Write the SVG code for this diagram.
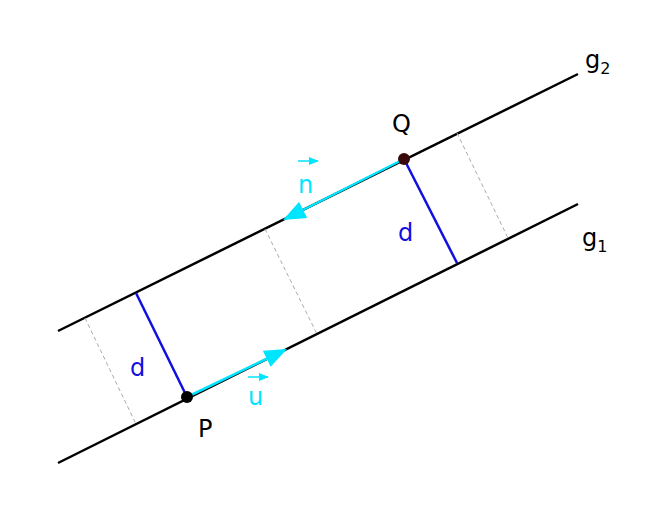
<svg xmlns="http://www.w3.org/2000/svg" width="660" height="512" viewBox="0 0 660 512">
<style>
.ln{stroke:#000;stroke-width:2.5;fill:none}
.ds{stroke:#aaa;stroke-width:1;stroke-dasharray:4,3;fill:none}
.bl{stroke:#1010e0;stroke-width:2.5}
.cy{stroke:#00e5ff;stroke-width:2.5}
text{font-family:"DejaVu Sans",sans-serif;font-size:24px}
</style>
<defs>
<marker id="ah" markerWidth="10" markerHeight="8" refX="9" refY="4" orient="auto" markerUnits="userSpaceOnUse" viewBox="0 0 10 8">
<path d="M0,0 L10,4 L0,8 z" fill="#00e5ff"/>
</marker>
<marker id="ah2" viewBox="0 0 10 8" refX="9" refY="4" markerWidth="24" markerHeight="18" orient="auto" markerUnits="userSpaceOnUse">
<path d="M0,0 L10,4 L0,8 z" fill="#00e5ff"/>
</marker>
</defs>
<g id="lines">
<line class="ln" x1="58" y1="463" x2="578" y2="204"/>
<line class="ln" x1="58" y1="331" x2="578" y2="74"/>
<line class="ds" x1="85" y1="318" x2="136" y2="424"/>
<line class="ds" x1="265" y1="229" x2="317" y2="334"/>
<line class="ds" x1="457" y1="133" x2="508" y2="238"/>
</g>
<g id="connectors">
<line class="bl" x1="404" y1="159" x2="457" y2="263"/>
<line class="bl" x1="187" y1="397" x2="136" y2="293"/>
<line class="cy" x1="404" y1="159" x2="285" y2="219" marker-end="url(#ah2)"/>
<line class="cy" x1="187" y1="397" x2="285" y2="350" marker-end="url(#ah2)"/>
<line stroke="#00e5ff" stroke-width="1.5" x1="298" y1="161" x2="318" y2="161" marker-end="url(#ah)"/>
<line stroke="#00e5ff" stroke-width="1.5" x1="248" y1="377" x2="268" y2="377" marker-end="url(#ah)"/>
</g>
<g id="Q"><circle cx="404" cy="159" r="6" fill="#3a0a0a"/><text x="392" y="132">Q</text></g>
<g id="P"><circle cx="187" cy="397" r="6" fill="#000"/><text x="198" y="437">P</text></g>
<g id="labels">
<text x="585" y="68">g<tspan font-size="16" dy="6">2</tspan></text>
<text x="582" y="246">g<tspan font-size="16" dy="6">1</tspan></text>
<text x="130" y="376" fill="#1010e0">d</text>
<text x="398" y="241" fill="#1010e0">d</text>
<text x="298" y="193" fill="#00e5ff">n</text>
<text x="248" y="405" fill="#00e5ff">u</text>
</g>
</svg>
